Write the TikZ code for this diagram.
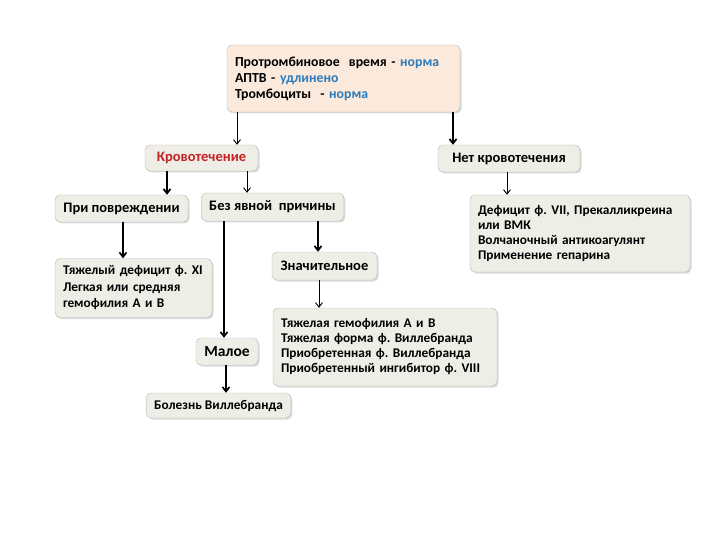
\documentclass[tikz,border=0pt]{standalone}
\usepackage{fontspec}
\setmainfont{Carlito}
\usepackage{xcolor}
\usetikzlibrary{arrows.meta,positioning,shadows}
\frenchspacing

\definecolor{boxfill}{RGB}{238,237,230}
\definecolor{boxline}{RGB}{185,185,180}
\definecolor{topfill}{RGB}{251,233,220}
\definecolor{bloodred}{RGB}{195,35,40}
\definecolor{normblue}{RGB}{45,125,190}

\tikzset{
    box/.style={draw=boxline, fill=boxfill, rounded corners=5pt,
        drop shadow={opacity=0.3,shadow xshift=1.5pt,shadow yshift=-1.5pt},
        inner xsep=8pt, inner ysep=2pt, align=left,
        font=\fontsize{13.3}{15}\selectfont\bfseries},
    headbox/.style={box, font=\fontsize{14.5}{16}\selectfont\bfseries},
    arr/.style={-{Straight Barb[length=4.5pt,width=7pt]}, line width=0.9pt},
    thickarr/.style={arr, line width=1.7pt},
}

\begin{document}
\begin{tikzpicture}[x=1pt,y=-1pt]
        \useasboundingbox (0,0) rectangle (720,540);

        % Draw the top box
        \node[box, font=\fontsize{13.8}{16}\selectfont\bfseries, fill=topfill, minimum width=233pt, minimum height=67pt, text width=217pt] (top) at (343.5,78.5)
            {Протромбиновое~ время - \textcolor{normblue}{норма}\\
             АПТВ - \textcolor{normblue}{удлинено}\\
             Тромбоциты~ - \textcolor{normblue}{норма}};

        % Draw the first level
        \node[headbox, minimum width=113pt, minimum height=26pt, text=bloodred] (krov) at (201.5,158) {Кровотечение};
        \node[headbox, minimum width=142pt, minimum height=27pt] (netk) at (509,158.5) {Нет кровотечения};

        % Draw the second level
        \node[headbox, minimum width=133pt, minimum height=27pt] (povr) at (121.5,208.5) {При повреждении};
        \node[headbox, minimum width=141pt, minimum height=28pt] (bezp) at (272.5,207) {Без явной~ причины};
        \node[box, minimum width=220pt, minimum height=77pt, text width=204pt] (defc) at (580,233.5)
            {Дефицит ф. VII, Прекалликреина\\
             или ВМК\\
             Волчаночный антикоагулянт\\
             Применение гепарина};

        % Draw the third level
        \node[box, font=\fontsize{13.3}{16.5}\selectfont\bfseries, minimum width=157pt, minimum height=59pt, text width=141pt] (tyazh) at (133.5,288)
            {Тяжелый дефицит ф. XI\\
             Легкая или средняя\\
             гемофилия А и В};
        \node[headbox, minimum width=105pt, minimum height=28pt] (znach) at (324.5,266) {Значительное};
        \node[box, minimum width=224pt, minimum height=78pt, text width=208pt] (gemo) at (385,347)
            {Тяжелая гемофилия А и В\\
             Тяжелая форма ф. Виллебранда\\
             Приобретенная ф. Виллебранда\\
             Приобретенный ингибитор ф. VIII};
        \node[headbox, font=\fontsize{15.5}{17}\selectfont\bfseries, minimum width=62pt, minimum height=27pt] (maloe) at (227,351.5) {Малое};
        \node[box, minimum width=143pt, minimum height=25pt] (bolezn) at (218.5,405.5) {Болезнь Виллебранда};

        % Draw the arrows
        \draw[arr] (237,0 |- top.south) -- (237,0 |- krov.north);
        \draw[thickarr] (453,0 |- top.south) -- (453,0 |- netk.north);
        \draw[thickarr] (167,0 |- krov.south) -- (167,0 |- povr.north);
        \draw[arr] (247,0 |- krov.south) -- (247,0 |- bezp.north);
        \draw[arr] (507,0 |- netk.south) -- (507,0 |- defc.north);
        \draw[thickarr] (123,0 |- povr.south) -- (123,0 |- tyazh.north);
        \draw[thickarr] (224,0 |- bezp.south) -- (224,0 |- maloe.north);
        \draw[thickarr] (318,0 |- bezp.south) -- (318,0 |- znach.north);
        \draw[arr] (319,0 |- znach.south) -- (319,0 |- gemo.north);
        \draw[thickarr] (226,0 |- maloe.south) -- (226,0 |- bolezn.north);

    \end{tikzpicture}
\end{document}
